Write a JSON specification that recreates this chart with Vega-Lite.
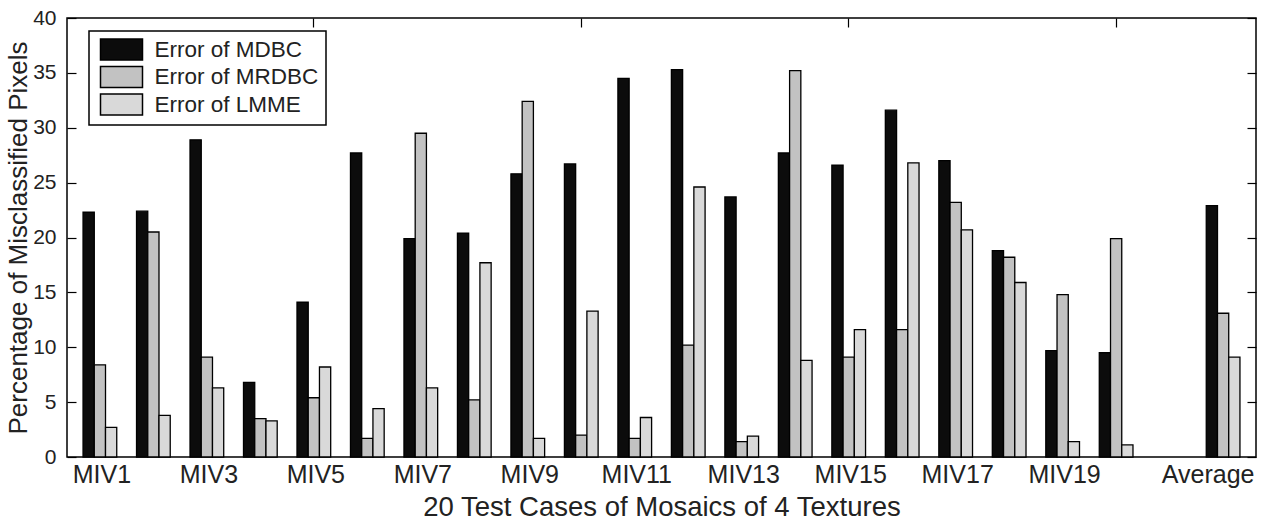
{
  "$schema": "https://vega.github.io/schema/vega-lite/v6.json",
  "width": 1189,
  "height": 439,
  "autosize": {"type": "none"},
  "padding": {"left": 67, "top": 18, "right": 12, "bottom": 64},
  "background": "white",
  "config": {
    "view": {"stroke": "black", "strokeWidth": 1.5},
    "font": "Liberation Sans",
    "axis": {"labelFont": "Liberation Sans", "titleFont": "Liberation Sans", "labelColor": "#222", "titleColor": "#222", "titleFontWeight": "normal", "grid": false, "domain": false}
  },
  "data": {
    "values": [
      {"case": "MIV1", "method": "Error of MDBC", "value": 22.3},
      {"case": "MIV1", "method": "Error of MRDBC", "value": 8.4},
      {"case": "MIV1", "method": "Error of LMME", "value": 2.7},
      {"case": "MIV2", "method": "Error of MDBC", "value": 22.4},
      {"case": "MIV2", "method": "Error of MRDBC", "value": 20.5},
      {"case": "MIV2", "method": "Error of LMME", "value": 3.8},
      {"case": "MIV3", "method": "Error of MDBC", "value": 28.9},
      {"case": "MIV3", "method": "Error of MRDBC", "value": 9.1},
      {"case": "MIV3", "method": "Error of LMME", "value": 6.3},
      {"case": "MIV4", "method": "Error of MDBC", "value": 6.8},
      {"case": "MIV4", "method": "Error of MRDBC", "value": 3.5},
      {"case": "MIV4", "method": "Error of LMME", "value": 3.3},
      {"case": "MIV5", "method": "Error of MDBC", "value": 14.1},
      {"case": "MIV5", "method": "Error of MRDBC", "value": 5.4},
      {"case": "MIV5", "method": "Error of LMME", "value": 8.2},
      {"case": "MIV6", "method": "Error of MDBC", "value": 27.7},
      {"case": "MIV6", "method": "Error of MRDBC", "value": 1.7},
      {"case": "MIV6", "method": "Error of LMME", "value": 4.4},
      {"case": "MIV7", "method": "Error of MDBC", "value": 19.9},
      {"case": "MIV7", "method": "Error of MRDBC", "value": 29.5},
      {"case": "MIV7", "method": "Error of LMME", "value": 6.3},
      {"case": "MIV8", "method": "Error of MDBC", "value": 20.4},
      {"case": "MIV8", "method": "Error of MRDBC", "value": 5.2},
      {"case": "MIV8", "method": "Error of LMME", "value": 17.7},
      {"case": "MIV9", "method": "Error of MDBC", "value": 25.8},
      {"case": "MIV9", "method": "Error of MRDBC", "value": 32.4},
      {"case": "MIV9", "method": "Error of LMME", "value": 1.7},
      {"case": "MIV10", "method": "Error of MDBC", "value": 26.7},
      {"case": "MIV10", "method": "Error of MRDBC", "value": 2.0},
      {"case": "MIV10", "method": "Error of LMME", "value": 13.3},
      {"case": "MIV11", "method": "Error of MDBC", "value": 34.5},
      {"case": "MIV11", "method": "Error of MRDBC", "value": 1.7},
      {"case": "MIV11", "method": "Error of LMME", "value": 3.6},
      {"case": "MIV12", "method": "Error of MDBC", "value": 35.3},
      {"case": "MIV12", "method": "Error of MRDBC", "value": 10.2},
      {"case": "MIV12", "method": "Error of LMME", "value": 24.6},
      {"case": "MIV13", "method": "Error of MDBC", "value": 23.7},
      {"case": "MIV13", "method": "Error of MRDBC", "value": 1.4},
      {"case": "MIV13", "method": "Error of LMME", "value": 1.9},
      {"case": "MIV14", "method": "Error of MDBC", "value": 27.7},
      {"case": "MIV14", "method": "Error of MRDBC", "value": 35.2},
      {"case": "MIV14", "method": "Error of LMME", "value": 8.8},
      {"case": "MIV15", "method": "Error of MDBC", "value": 26.6},
      {"case": "MIV15", "method": "Error of MRDBC", "value": 9.1},
      {"case": "MIV15", "method": "Error of LMME", "value": 11.6},
      {"case": "MIV16", "method": "Error of MDBC", "value": 31.6},
      {"case": "MIV16", "method": "Error of MRDBC", "value": 11.6},
      {"case": "MIV16", "method": "Error of LMME", "value": 26.8},
      {"case": "MIV17", "method": "Error of MDBC", "value": 27.0},
      {"case": "MIV17", "method": "Error of MRDBC", "value": 23.2},
      {"case": "MIV17", "method": "Error of LMME", "value": 20.7},
      {"case": "MIV18", "method": "Error of MDBC", "value": 18.8},
      {"case": "MIV18", "method": "Error of MRDBC", "value": 18.2},
      {"case": "MIV18", "method": "Error of LMME", "value": 15.9},
      {"case": "MIV19", "method": "Error of MDBC", "value": 9.7},
      {"case": "MIV19", "method": "Error of MRDBC", "value": 14.8},
      {"case": "MIV19", "method": "Error of LMME", "value": 1.4},
      {"case": "MIV20", "method": "Error of MDBC", "value": 9.5},
      {"case": "MIV20", "method": "Error of MRDBC", "value": 19.9},
      {"case": "MIV20", "method": "Error of LMME", "value": 1.1},
      {"case": "Average", "method": "Error of MDBC", "value": 22.9},
      {"case": "Average", "method": "Error of MRDBC", "value": 13.1},
      {"case": "Average", "method": "Error of LMME", "value": 9.1}
    ]
  },
  "resolve": {"axis": {"x": "independent", "y": "independent"}},
  "encoding": {
    "x": {
      "field": "case", "type": "nominal",
      "scale": {"domain": ["MIV1","MIV2","MIV3","MIV4","MIV5","MIV6","MIV7","MIV8","MIV9","MIV10","MIV11","MIV12","MIV13","MIV14","MIV15","MIV16","MIV17","MIV18","MIV19","MIV20"," ","Average"], "paddingInner": 0.37, "paddingOuter": 0.3}
    },
    "xOffset": {
      "field": "method", "type": "nominal",
      "scale": {"domain": ["Error of MDBC","Error of MRDBC","Error of LMME"], "paddingInner": 0, "paddingOuter": 0}
    },
    "y": {"field": "value", "type": "quantitative", "scale": {"domain": [0, 40], "nice": false, "zero": true}}
  },
  "layer": [
    {
      "mark": {"type": "bar", "stroke": "black", "strokeWidth": 1.3},
      "encoding": {
        "x": {
          "field": "case", "type": "nominal",
          "axis": {"orient": "bottom", "title": "20 Test Cases of Mosaics of 4 Textures", "titleFontSize": 27.5, "titlePadding": 6, "labelFontSize": 25, "labelAngle": 0, "labelPadding": 5, "ticks": false,
            "values": ["MIV1","MIV3","MIV5","MIV7","MIV9","MIV11","MIV13","MIV15","MIV17","MIV19","Average"],
            "labelOffset": {"condition": {"test": "datum.value === 'Average'", "value": -15}, "value": 2}}
        },
        "y": {
          "field": "value", "type": "quantitative",
          "axis": {"orient": "left", "title": "Percentage of Misclassified Pixels", "titleFontSize": 26, "titlePadding": 1, "labelFontSize": 21, "values": [0,5,10,15,20,25,30,35,40], "tickSize": -9, "tickColor": "black", "tickWidth": 1.2, "labelPadding": 20, "labelFlush": false}
        },
        "color": {
          "field": "method", "type": "nominal", "sort": null,
          "scale": {"domain": ["Error of MDBC","Error of MRDBC","Error of LMME"], "range": ["#0c0c0c","#c2c2c2","#d9d9d9"]},
          "legend": {"title": null, "orient": "none", "legendX": 22, "legendY": 13, "symbolType": "M-2,-1H2V1H-2Z", "symbolSize": 441, "symbolOffset": 14, "symbolStrokeColor": "black", "symbolStrokeWidth": 1.5, "labelFontSize": 22.5, "labelFont": "Liberation Sans", "labelColor": "#222", "rowPadding": 0.5, "labelOffset": 21.5, "strokeColor": "black", "fillColor": "white", "padding": 7, "labelLimit": 300,
            "encode": {"legend": {"update": {"strokeWidth": {"value": 1.5}}}}}
        }
      }
    },
    {
      "mark": {"type": "bar", "opacity": 0},
      "encoding": {
        "x": {
          "field": "case", "type": "nominal",
          "axis": {"orient": "top", "title": null, "labels": false, "values": ["MIV5","MIV10","MIV15","MIV20"], "tickSize": -9, "tickColor": "black", "tickWidth": 1.2}
        },
        "y": {
          "field": "value", "type": "quantitative",
          "axis": {"orient": "right", "title": null, "labels": false, "values": [0,5,10,15,20,25,30,35,40], "tickSize": -9, "tickColor": "black", "tickWidth": 1.2}
        }
      }
    }
  ]
}
